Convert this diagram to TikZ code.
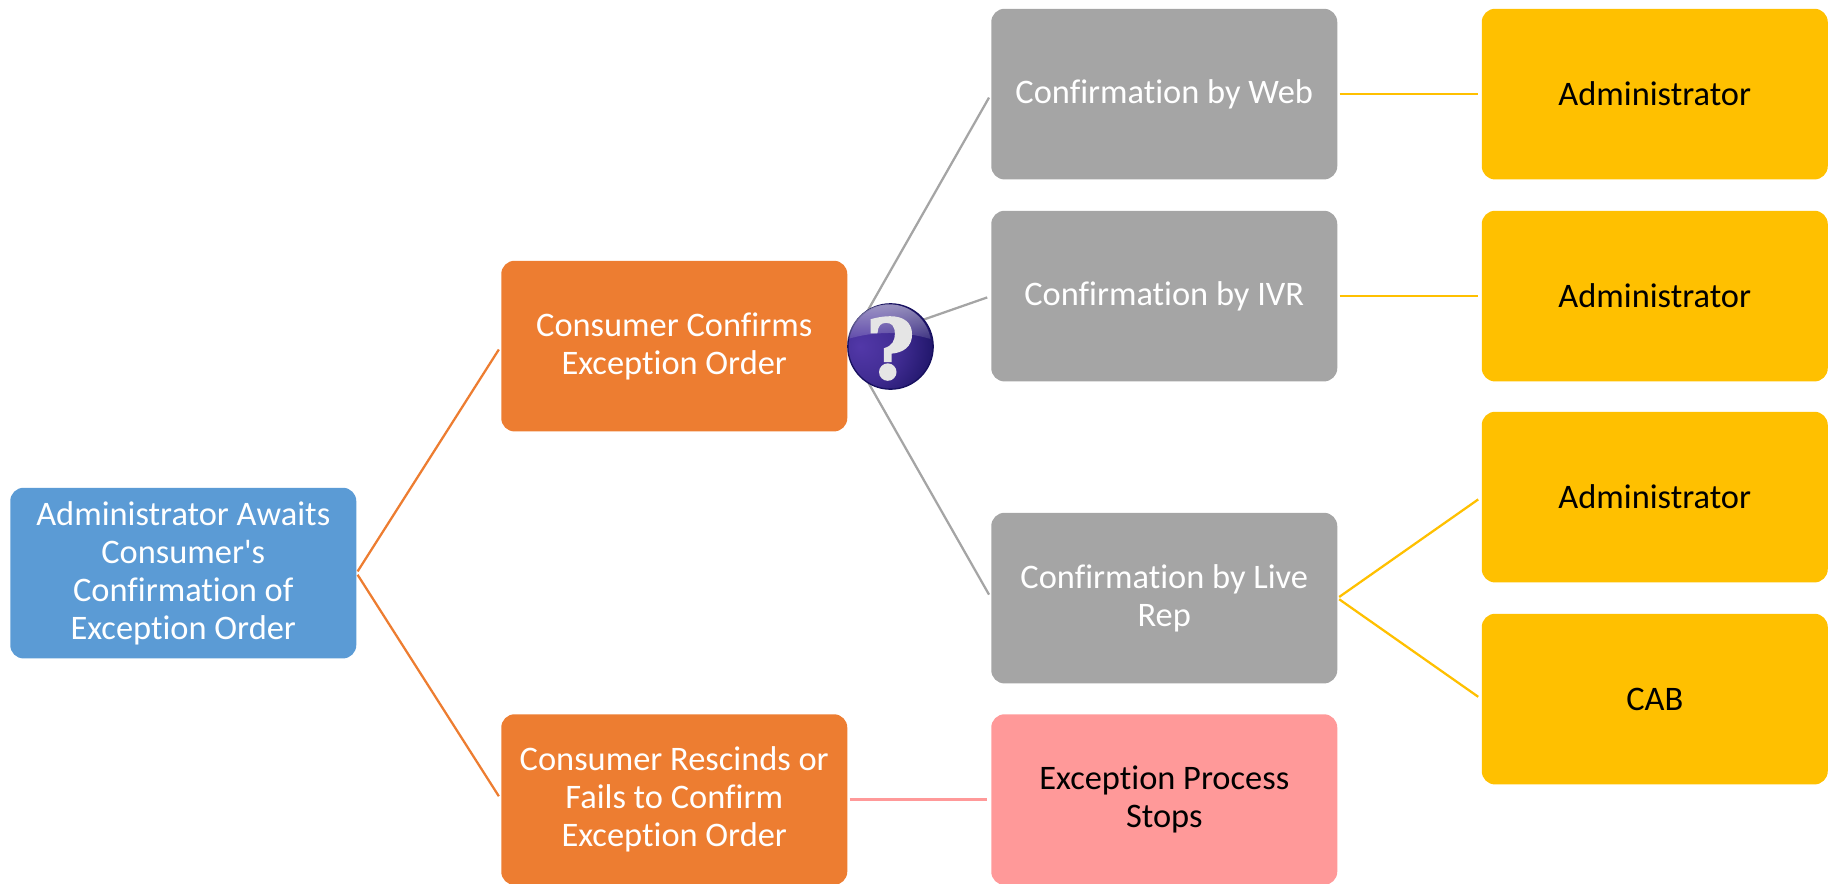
\documentclass[tikz,border=0pt]{standalone}
\usepackage{fontspec}
\setmainfont{Carlito}[Ligatures={TeX,NoCommon}]
\newfontfamily\markfont{DejaVu Serif}[FakeBold=2.5]
\usetikzlibrary{fadings}
\definecolor{blueBox}{HTML}{5B9BD5}
\definecolor{orangeBox}{HTML}{ED7D31}
\definecolor{grayBox}{HTML}{A5A5A5}
\definecolor{goldBox}{HTML}{FFC000}
\definecolor{pinkBox}{HTML}{FF9999}
\definecolor{ballDark}{HTML}{17105F}
\definecolor{ballLight}{HTML}{5238A8}
\pgfdeclareradialshading{ballshade}{\pgfpoint{-18bp}{0bp}}{
    color(0bp)=(ballLight);
    color(20bp)=(ballLight!70!ballDark);
    color(42bp)=(ballDark);
    color(100bp)=(ballDark)}
\tikzfading[name=glare fade, top color=transparent!45, bottom color=transparent!88]
\newcommand*\boxwidth{259.5pt}
\newcommand*\boxheight{128pt}
\tikzset{entry/.style 2 args={
    rectangle,
    rounded corners=10pt,
    fill=#1,
    text=#2,
    anchor=north west,
    inner sep=4pt,
    text width={\boxwidth-8pt},
    minimum height=\boxheight,
    align=flush center,
    font=\fontsize{25.8}{28.5}\selectfont
}}
\tikzset{link/.style={line width=1.7pt, shorten <=1.5pt, shorten >=3pt}}

\begin{document}
\begin{tikzpicture}[x=0.75pt,y=-0.75pt]
    \useasboundingbox (0,0) rectangle (1835,883);

    % First the boxes, column by column.
    \node[entry={blueBox}{white}] (awaits) at (10,487.5) {Administrator Awaits\\Consumer\textquotesingle s\\Confirmation of\\Exception Order};

    \node[entry={orangeBox}{white}] (confirms) at (501,260.5) {Consumer Confirms\\Exception Order};
    \node[entry={orangeBox}{white}] (rescinds) at (501,714) {Consumer Rescinds or\\Fails to Confirm\\Exception Order};

    \node[entry={grayBox}{white}] (web) at (991,8.5) {Confirmation by Web};
    \node[entry={grayBox}{white}] (ivr) at (991,210.5) {Confirmation by IVR};
    \node[entry={grayBox}{white}] (live) at (991,512.5) {Confirmation by Live\\Rep};
    \node[entry={pinkBox}{black}] (stops) at (991,714) {Exception Process\\Stops};

    \node[entry={goldBox}{black}] (adminA) at (1481.5,8.5) {Administrator};
    \node[entry={goldBox}{black}] (adminB) at (1481.5,210.5) {Administrator};
    \node[entry={goldBox}{black}] (adminC) at (1481.5,411.5) {Administrator};
    \node[entry={goldBox}{black}] (cab) at (1481.5,613.5) {CAB};

    % Then the connectors.
    \foreach \target in {confirms,rescinds}
        \draw[link,orangeBox] (awaits.east) -- (\target.west);
    \foreach \target in {web,ivr,live}
        \draw[link,grayBox] (confirms.east) -- (\target.west);
    \draw[link,pinkBox] (rescinds.east) -- (stops.west);
    \draw[link,goldBox] (web.east) -- (adminA.west);
    \draw[link,goldBox] (ivr.east) -- (adminB.west);
    \foreach \target in {adminC,cab}
        \draw[link,goldBox] (live.east) -- (\target.west);

    % The question ball sits on top of the grey lines.
    \node[circle,draw=ballDark,line width=1pt,minimum size=64pt,inner sep=0pt,
          shading=ballshade] (ball) at (890.5,346.5) {};
    \fill[white,path fading=glare fade] (ball.170) arc[start angle=170,end angle=10,radius=31.5pt]
        .. controls +(-20pt,6pt) and +(20pt,6pt) .. (ball.170);
    \node[text=white!90!black,font=\markfont\bfseries\fontsize{62}{62}\selectfont,inner sep=0pt] (mark) at ([yshift=-1.5pt]ball.center) {?};
\end{tikzpicture}
\end{document}
